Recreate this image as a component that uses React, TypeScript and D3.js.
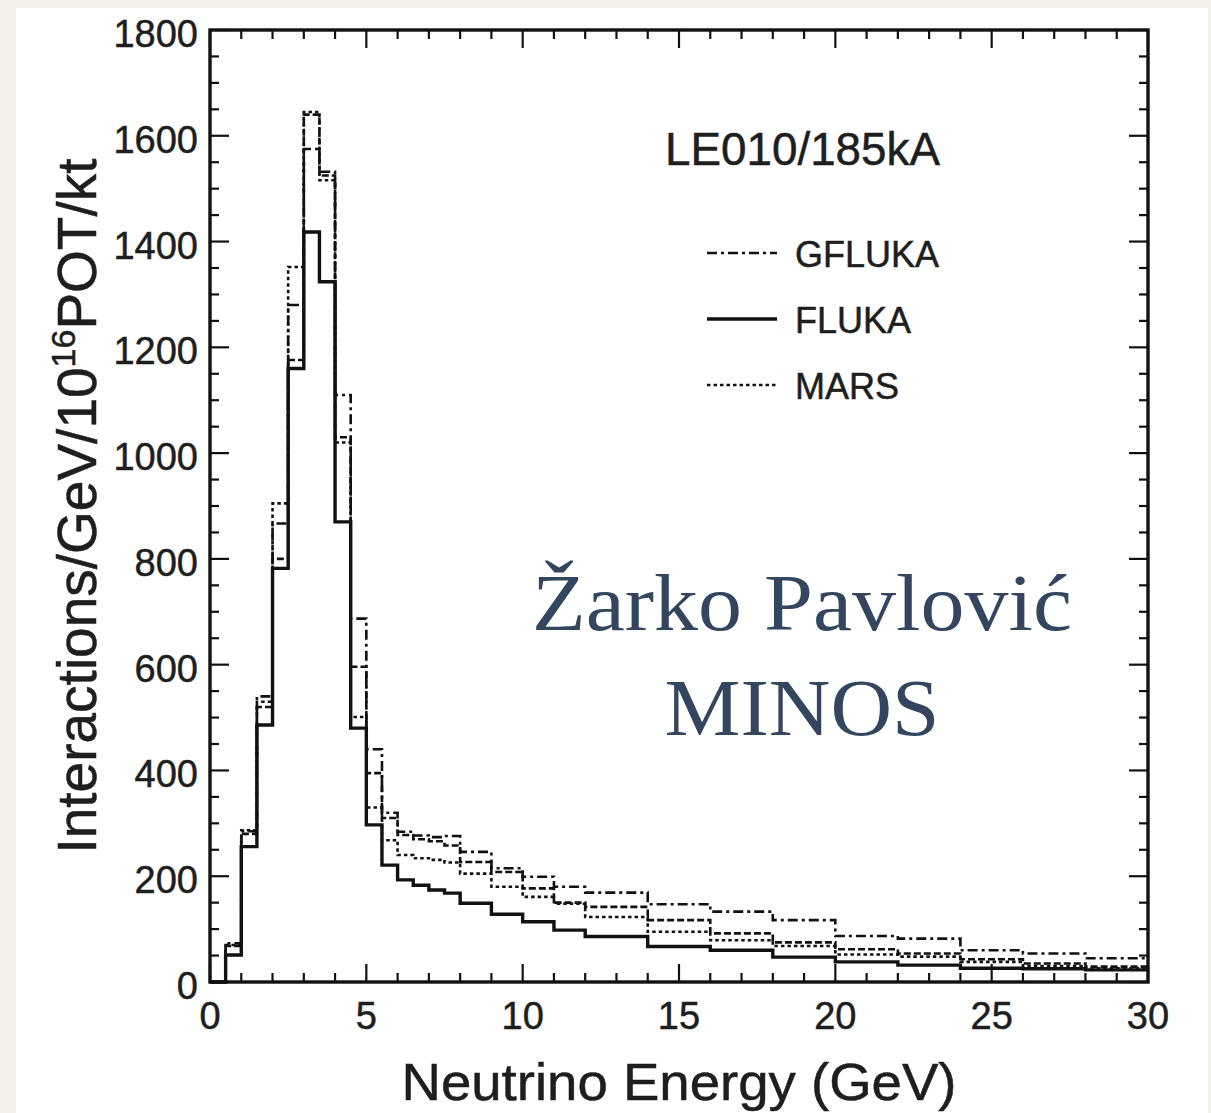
import React from 'react';
import * as d3 from 'd3';

// ---- data ----
const binEdges = [0, 0.5, 1, 1.5, 2, 2.5, 3, 3.5, 4, 4.5, 5, 5.5, 6, 6.5, 7, 7.5, 8, 9, 10, 11, 12, 14, 16, 18, 20, 22, 24, 26, 28, 30];
const flukaValues = [0, 51, 256, 486, 782, 1160, 1418, 1324, 870, 480, 297, 221, 193, 183, 174, 168, 149, 128, 114, 98, 86, 67, 60, 47, 38, 32, 26, 25, 23];
const gflukaValues = [0, 73, 285, 540, 867, 1280, 1575, 1532, 1110, 687, 440, 320, 284, 277, 274, 276, 246, 215, 199, 180, 169, 147, 133, 117, 87, 82, 60, 54, 45];
const marsValues = [0, 70, 287, 530, 905, 1352, 1645, 1516, 1020, 501, 330, 268, 240, 234, 231, 226, 205, 180, 161, 148, 123, 95, 79, 68, 52, 48, 38, 30, 26];
const dashedValues = [0, 68, 280, 520, 800, 1176, 1640, 1525, 1030, 596, 395, 310, 278, 270, 266, 258, 227, 208, 177, 150, 142, 117, 92, 75, 62, 54, 43, 35, 29];
const xTickValues = [0, 5, 10, 15, 20, 25, 30];
const yTickValues = [0, 200, 400, 600, 800, 1000, 1200, 1400, 1600, 1800];
const legendLabels = ['GFLUKA', 'FLUKA', 'MARS'];
const configLabel = 'LE010/185kA';
const watermarkLines = ['Žarko Pavlović', 'MINOS'];

const W = 1211;
const H = 1113;
const L = 210, R = 1148, T = 30, B = 982;

const DASH_GFLUKA = '10 4 3 4';
const DASH_MARS = '3.5 3';
const DASH_EXTRA = '7 3';

export default function App() {
  const x = d3.scaleLinear().domain([0, 30]).range([L, R]);
  const y = d3.scaleLinear().domain([0, 1800]).range([B, T]);

  const stepPath = (vals: number[]) => {
    const pts: [number, number][] = [];
    vals.forEach((v, i) => {
      pts.push([binEdges[i], v]);
      pts.push([binEdges[i + 1], v]);
    });
    return d3.line<[number, number]>().x(d => x(d[0])).y(d => y(d[1]))(pts) || '';
  };

  const xMinor = d3.range(0, 31, 1);
  const yMinor = d3.range(0, 1801, 50);
  const font = "'Liberation Sans', Arial, Helvetica, sans-serif";

  const series = [
    { vals: dashedValues, dash: DASH_EXTRA, w: 2.6 },
    { vals: marsValues, dash: DASH_MARS, w: 2.6 },
    { vals: gflukaValues, dash: DASH_GFLUKA, w: 2.6 },
    { vals: flukaValues, dash: undefined, w: 3.4 },
  ];

  const legendDash = [DASH_GFLUKA, undefined, DASH_MARS];
  const legendY = [253, 319, 385];
  const txt = { fill: '#1e1e1e', stroke: '#1e1e1e', strokeWidth: 0.5 };

  return (
    <svg width={W} height={H} viewBox={`0 0 ${W} ${H}`}
      style={{ position: 'absolute', left: 0, top: 0, display: 'block' }}>
      <rect x={0} y={0} width={W} height={H} fill="#f3f0ea" />
      <rect x={16} y={8} width={1192} height={H - 8} fill="#ffffff" />

      {/* minor / major ticks, all four sides */}
      <g stroke="#111" strokeWidth={2.2}>
        {xMinor.map(v => {
          const major = v % 5 === 0;
          const len = major ? 18 : 9;
          return (
            <g key={'xt' + v}>
              <line x1={x(v)} x2={x(v)} y1={B} y2={B - len} />
              <line x1={x(v)} x2={x(v)} y1={T} y2={T + len} />
            </g>
          );
        })}
        {yMinor.map(v => {
          const major = v % 200 === 0;
          const len = major ? 19 : 9;
          return (
            <g key={'yt' + v}>
              <line x1={L} x2={L + len} y1={y(v)} y2={y(v)} />
              <line x1={R} x2={R - len} y1={y(v)} y2={y(v)} />
            </g>
          );
        })}
      </g>

      {/* histograms */}
      <g fill="none" stroke="#111" strokeLinejoin="miter" strokeLinecap="butt">
        {series.map((s, i) => (
          <path key={i} d={stepPath(s.vals)} strokeWidth={s.w} strokeDasharray={s.dash} />
        ))}
      </g>

      {/* frame */}
      <rect x={L} y={T} width={R - L} height={B - T} fill="none" stroke="#111" strokeWidth={3.4} />

      {/* tick labels */}
      <g fontFamily={font} fontSize={38} {...txt}>
        {yTickValues.map(v => (
          <text key={'yl' + v} x={198} y={y(v) + 17} textAnchor="end">{v}</text>
        ))}
        {xTickValues.map(v => (
          <text key={'xl' + v} x={x(v)} y={1029} textAnchor="middle">{v}</text>
        ))}
      </g>

      {/* axis titles */}
      <text x={(L + R) / 2} y={1100} textAnchor="middle" fontFamily={font} fontSize={52}
        {...txt} textLength={555} lengthAdjust="spacingAndGlyphs">Neutrino Energy (GeV)</text>
      <text transform={`translate(96, ${(T + B) / 2}) rotate(-90)`} textAnchor="middle"
        fontFamily={font} fontSize={55} {...txt}>
        Interactions/GeV/10<tspan dy={-21} fontSize={34}>16</tspan><tspan dy={21}>POT/kt</tspan>
      </text>

      {/* configuration label */}
      <text x={665} y={165} fontFamily={font} fontSize={46} {...txt}
        textLength={275} lengthAdjust="spacingAndGlyphs">{configLabel}</text>

      {/* legend */}
      {legendLabels.map((lab, i) => (
        <g key={lab}>
          <line x1={707} x2={777} y1={legendY[i]} y2={legendY[i]} stroke="#111"
            strokeWidth={i === 1 ? 3.4 : 2.6} strokeDasharray={legendDash[i]} />
          <text x={795} y={legendY[i] + 14} fontFamily={font} fontSize={36} {...txt}>{lab}</text>
        </g>
      ))}

      {/* watermark */}
      <g fontFamily="'Liberation Serif', 'DejaVu Serif', serif" fill="#34465e" textAnchor="middle">
        <text x={802} y={630} fontSize={80} textLength={540} lengthAdjust="spacingAndGlyphs">{watermarkLines[0]}</text>
        <text x={802} y={735} fontSize={80} textLength={275} lengthAdjust="spacingAndGlyphs">{watermarkLines[1]}</text>
      </g>
    </svg>
  );
}
